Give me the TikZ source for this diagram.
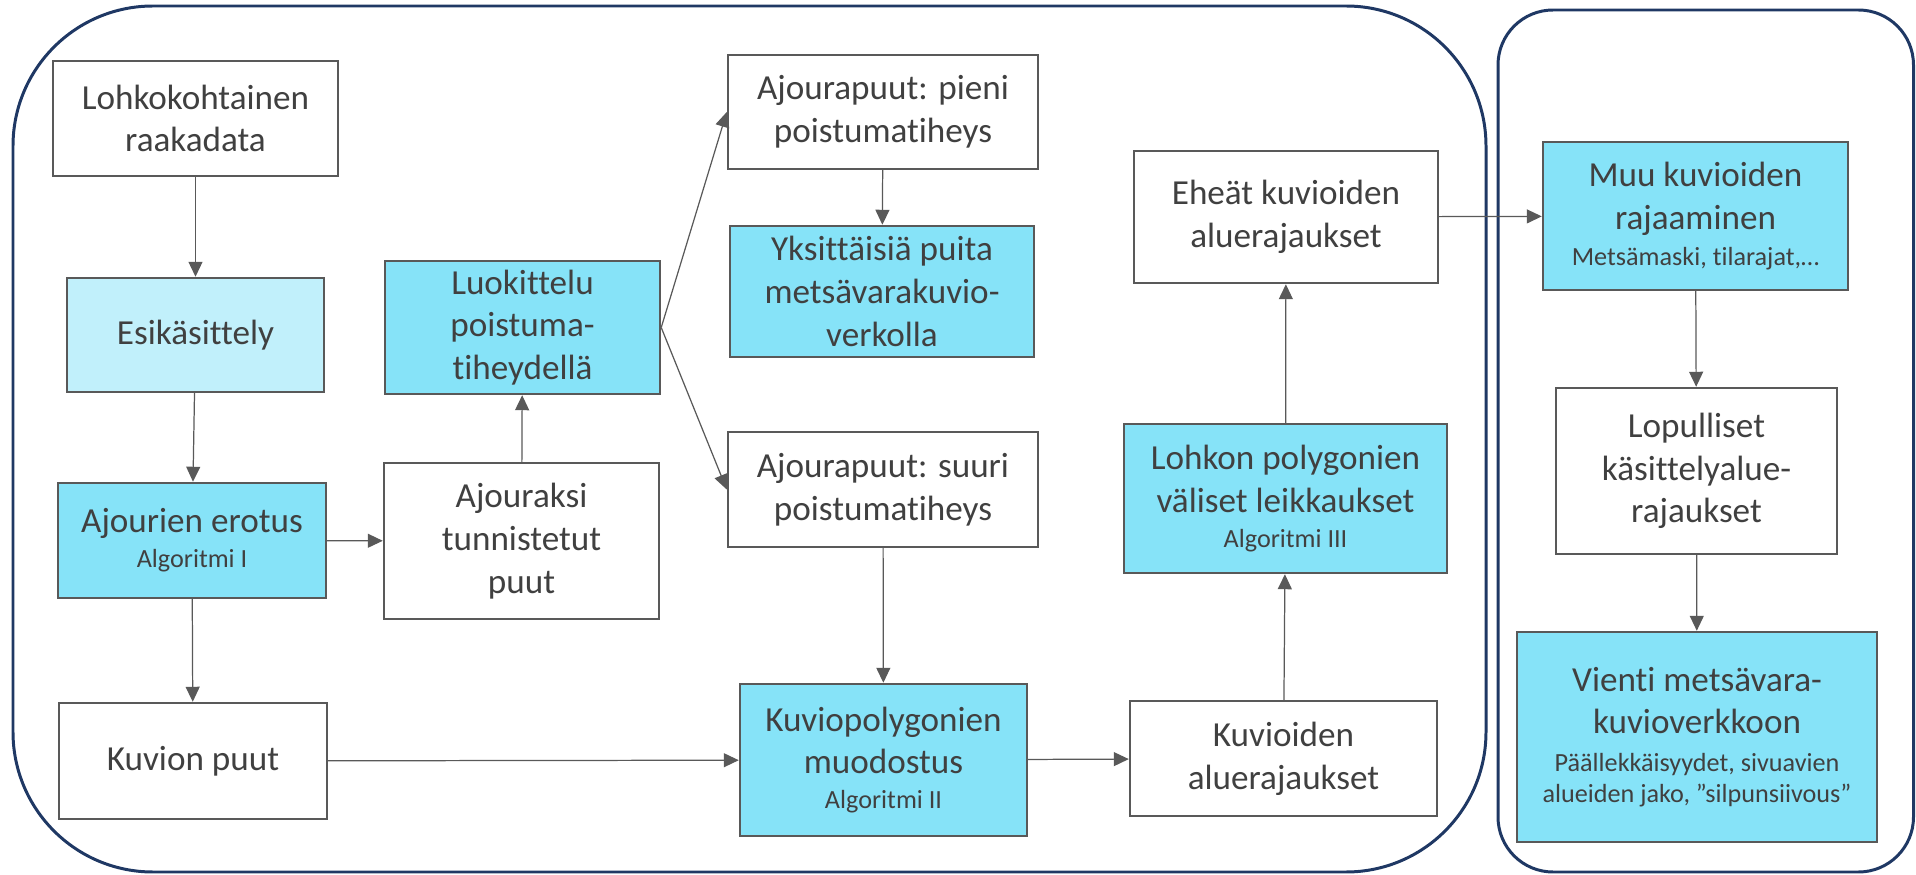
\documentclass[tikz,border=0pt]{standalone}
\usepackage{fontspec}
\setmainfont[Ligatures=NoCommon, Contextuals=NoAlternate]{Carlito}
\usetikzlibrary{arrows.meta}

\definecolor{ka-LineColor}{HTML}{595959}
\definecolor{ka-TextColor}{HTML}{404040}
\definecolor{ka-AlgoColor}{HTML}{86E3F8}
\definecolor{ka-PrepColor}{HTML}{C1F0FB}
\definecolor{ka-FrameColor}{HTML}{1F3864}
\newcommand{\kasmall}{\fontsize{14.9}{18}\selectfont}
\tikzstyle{ka-step-base}=[rectangle,
                          draw={ka-LineColor},
                          line width=1.4pt,
                          text={ka-TextColor},
                          text centered,
                          inner sep=0pt,
                          font=\fontsize{20}{24.3}\selectfont
                         ]
\tikzstyle{ka-data}=[ka-step-base, fill=white]
\tikzstyle{ka-algo}=[ka-step-base, fill={ka-AlgoColor}]
\tikzstyle{ka-prep}=[ka-step-base, fill={ka-PrepColor}]
\tikzstyle{ka-frame}=[draw={ka-FrameColor}, line width=1.7pt]
\tikzstyle{ka-flow}=[draw={ka-LineColor}, line width=0.7pt,
                     -{Triangle[length=0.3cm, width=0.28cm]}]

\begin{document}
\begin{tikzpicture}[align=center]
    \useasboundingbox (0, 0) rectangle (38.32, -17.5);

    % Frames
    % --------------------------------------------------------------------------
    \draw[ka-frame, rounded corners=2.8cm] (0.26, -0.12) rectangle (29.72, -17.44);
    \draw[ka-frame, rounded corners=1.1cm] (29.96, -0.2) rectangle (38.27, -17.44);

    % Steps
    % --------------------------------------------------------------------------
    \node at ( 3.91,  -2.37) (raakadata)    [ka-data, minimum width=5.70cm, minimum height=2.30cm] {Lohkokohtainen\\raakadata};
    \node at ( 3.91,  -6.70) (esikasittely) [ka-prep, minimum width=5.14cm, minimum height=2.28cm] {Esikäsittely};
    \node at ( 3.84, -10.81) (erotus)       [ka-algo, minimum width=5.36cm, minimum height=2.30cm] {Ajourien erotus\\[-4.4pt]{\kasmall Algoritmi I}};
    \node at ( 3.86, -15.22) (kuvionpuut)   [ka-data, minimum width=5.36cm, minimum height=2.32cm] {Kuvion puut};

    % ------------------------------------------------------------------------
    \node at (10.45,  -6.55) (luokittelu)   [ka-algo, minimum width=5.50cm, minimum height=2.66cm] {Luokittelu\\poistuma-\\tiheydellä};
    \node at (10.43, -10.82) (ajouraksi)    [ka-data, minimum width=5.50cm, minimum height=3.12cm] {Ajouraksi\\tunnistetut\\puut};

    % ------------------------------------------------------------------------
    \node at (17.66,  -2.24) (pieni)        [ka-data, minimum width=6.20cm, minimum height=2.28cm] {Ajourapuut: pieni\\poistumatiheys};
    \node at (17.64,  -5.83) (yksittaiset)  [ka-algo, minimum width=6.08cm, minimum height=2.62cm] {Yksittäisiä puita\\metsävarakuvio-\\verkolla};
    \node at (17.66,  -9.79) (suuri)        [ka-data, minimum width=6.20cm, minimum height=2.30cm] {Ajourapuut: suuri\\poistumatiheys};
    \node at (17.67, -15.20) (muodostus)    [ka-algo, minimum width=5.74cm, minimum height=3.04cm] {Kuviopolygonien\\muodostus\\[-4.4pt]{\kasmall Algoritmi II}};

    % ------------------------------------------------------------------------
    \node at (25.72,  -4.34) (eheat)        [ka-data, minimum width=6.08cm, minimum height=2.64cm] {Eheät kuvioiden\\aluerajaukset};
    \node at (25.71,  -9.97) (leikkaukset)  [ka-algo, minimum width=6.46cm, minimum height=2.98cm] {Lohkon polygonien\\väliset leikkaukset\\[-4.4pt]{\kasmall Algoritmi III}};
    \node at (25.67, -15.17) (aluerajaukset) [ka-data, minimum width=6.14cm, minimum height=2.30cm] {Kuvioiden\\aluerajaukset};

    % ------------------------------------------------------------------------
    \node at (33.91,  -4.32) (rajaaminen)   [ka-algo, minimum width=6.10cm, minimum height=2.96cm] {Muu kuvioiden\\rajaaminen\\[-3.8pt]{\kasmall Metsämaski, tilarajat,…}};
    \node at (33.93,  -9.42) (lopulliset)   [ka-data, minimum width=5.62cm, minimum height=3.32cm] {Lopulliset\\käsittelyalue-\\rajaukset};
    \node at (33.94, -14.74) (vienti)       [ka-algo, minimum width=7.20cm, minimum height=4.20cm] {Vienti metsävara-\\kuvioverkkoon\\[-3.2pt]{\kasmall Päällekkäisyydet, sivuavien}\\[-6.4pt]{\kasmall alueiden jako, ”silpunsiivous”}};

    % Arrows
    % --------------------------------------------------------------------------
    \draw[ka-flow] (raakadata)    -- (esikasittely);
    \draw[ka-flow] (esikasittely) -- (erotus);
    \draw[ka-flow] (erotus)       -- (ajouraksi);
    \draw[ka-flow] (erotus)       -- (kuvionpuut);
    \draw[ka-flow] (ajouraksi)    -- (luokittelu);

    \draw[ka-flow] (luokittelu.east) -- (pieni.west);
    \draw[ka-flow] (luokittelu.east) -- (suuri.west);
    \draw[ka-flow] (pieni)        -- (yksittaiset);
    \draw[ka-flow] (suuri)        -- (muodostus);
    \draw[ka-flow] (kuvionpuut)   -- (muodostus);

    \draw[ka-flow] (muodostus)     -- (aluerajaukset);
    \draw[ka-flow] (aluerajaukset) -- (leikkaukset);
    \draw[ka-flow] (leikkaukset)   -- (eheat);
    \draw[ka-flow] (eheat)         -- (rajaaminen);

    \draw[ka-flow] (rajaaminen) -- (lopulliset);
    \draw[ka-flow] (lopulliset) -- (vienti);

\end{tikzpicture}
\end{document}
